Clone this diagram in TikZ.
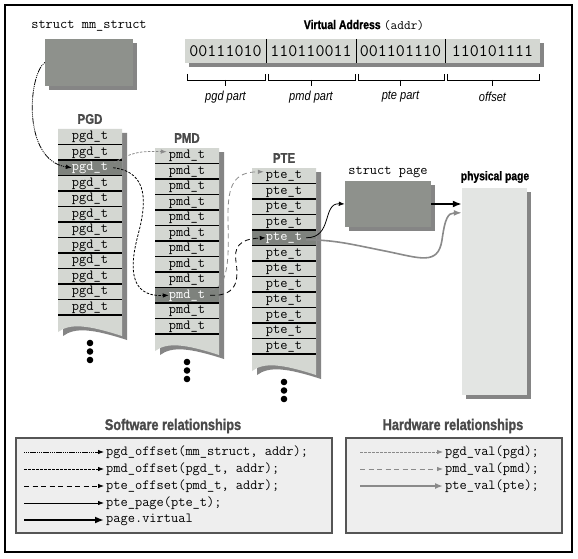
\documentclass[tikz,border=0pt]{standalone}
\usepackage{fontspec}
\newfontfamily\condfont[FakeStretch=0.85]{Liberation Sans}
\newfontfamily\titlefont[FakeStretch=0.82,BoldFeatures={FakeBold=1.2}]{Liberation Sans}
\usepackage{tikz}
\usepackage{xcolor}
\usetikzlibrary{arrows.meta,shadows}
\definecolor{cellgray}{HTML}{D4D7D2}
\definecolor{hlgray}{HTML}{7E827D}
\definecolor{boxgray}{HTML}{8E918C}
\definecolor{physgray}{HTML}{E3E5E3}
\definecolor{shadowgray}{HTML}{858585}
\definecolor{titlegray}{HTML}{4A4A4A}
\definecolor{legendfill}{HTML}{EEEEEE}
\definecolor{legendframe}{HTML}{555555}
\definecolor{hwgray}{HTML}{8A8A8A}
\tikzset{
  mono/.style={font=\ttfamily\fontsize{14}{16}\selectfont},
  rowtxt/.style={mono,inner sep=0pt,text height=8.5pt,text depth=3pt},
  bits/.style={font=\ttfamily\fontsize{17.5}{19}\selectfont,inner sep=0pt},
  partlabel/.style={font=\condfont\itshape\fontsize{13}{15}\selectfont},
  tabtitle/.style={font=\titlefont\bfseries\fontsize{14}{16}\selectfont,text=titlegray},
  reltitle/.style={font=\titlefont\bfseries\fontsize{15.5}{17}\selectfont,text=titlegray},
  phystitle/.style={font=\titlefont\bfseries\fontsize{12.6}{14}\selectfont},
  darkbox/.style={fill=boxgray,drop shadow={shadow xshift=4pt,shadow yshift=-4pt,fill=shadowgray,opacity=1}},
  physbox/.style={fill=physgray,drop shadow={shadow xshift=4pt,shadow yshift=-4pt,fill=shadowgray,opacity=1}},
  legendbox/.style={fill=legendfill,draw=legendframe,line width=1.5pt},
  legtxt/.style={mono,anchor=west,inner sep=2pt},
  rowline/.style={line width=1.1pt},
  swarrow/.style={line width=0.8pt,-{Latex[length=6pt,width=4.5pt]}},
  mmarrow/.style={swarrow,dash pattern=on 1pt off 1pt on 1pt off 1pt on 1pt off 1pt on 6pt off 1pt},
  pgdarrow/.style={swarrow,dash pattern=on 2.5pt off 1.5pt},
  pmdarrow/.style={swarrow,dash pattern=on 5pt off 3.5pt},
  pagearrow/.style={swarrow},
  virtarrow/.style={line width=2pt,-{Latex[length=9pt,width=7pt]}},
  pgdval/.style={swarrow,draw=hwgray,dash pattern=on 2.5pt off 1.5pt},
  pmdval/.style={swarrow,draw=hwgray,dash pattern=on 5pt off 3.5pt},
  pteval/.style={line width=1.6pt,draw=hwgray,-{Latex[length=8pt,width=6pt]}}
}
\begin{document}
\begin{tikzpicture}[x=1pt,y=-1pt]
\useasboundingbox (0,0) rectangle (578,559);
\fill[white] (0,0) rectangle (578,559);
\draw[line width=2pt] (5,5) rectangle (572,552);

\node[mono] (mmlabel) at (89,26) {struct mm\_struct};
\node[darkbox,minimum width=88pt,minimum height=47pt] (mm) at (89,62.5) {};

\node (vaddr) at (364,25) {{\titlefont\bfseries\fontsize{12.7}{14}\selectfont Virtual Address} {\ttfamily\fontsize{13}{15}\selectfont(addr)}};
\fill[shadowgray] (189,43) rectangle (544,67);
\fill[cellgray] (185,39) rectangle (540,63);
\foreach \xl/\xr/\bitstr/\plabel [count=\i] in {185/266/00111010/pgd part, 266/356/110110011/pmd part, 356/445/001101110/pte part, 445/540/110101111/offset}{
  \node[bits] (bits\i) at ({(\xl+\xr)/2},51) {\bitstr};
  \draw (\xl+2,74) |- (\xr-1,80) -- (\xr-1,74);
  \draw ({(\xl+\xr)/2},80) -- ++(0,6);
  \node[partlabel] (part\i) at ({(\xl+\xr)/2},97) {\plabel};
}
\foreach \xd in {266,356,445}
  \draw (\xd,39) -- (\xd,63);

\foreach \tname/\Tname/\xa/\ya/\hrow in {pgd/PGD/58/129/3, pmd/PMD/155/148/10, pte/PTE/252/168/5}{
  \fill[shadowgray,shift={(5,4)}] (\xa,\ya) -- (\xa+64,\ya) -- (\xa+64,\ya+207) .. controls (\xa+30,\ya+196) and (\xa+12,\ya+194) .. (\xa,\ya+203) -- cycle;
  \fill[cellgray] (\xa,\ya) -- (\xa+64,\ya) -- (\xa+64,\ya+207) .. controls (\xa+30,\ya+196) and (\xa+12,\ya+194) .. (\xa,\ya+203) -- cycle;
  \fill[hlgray] (\xa,\ya+\hrow*15.5-15.5) rectangle (\xa+64,\ya+\hrow*15.5);
  \foreach \row in {1,...,12}{
    \ifnum\row=\hrow
      \node[rowtxt,text=white] (\tname\row) at (\xa+32,\ya+\row*15.5-7.75) {\tname\_t};
    \else
      \node[rowtxt] (\tname\row) at (\xa+32,\ya+\row*15.5-7.75) {\tname\_t};
    \fi
    \draw[rowline] (\xa,\ya+\row*15.5) -- (\xa+64,\ya+\row*15.5);
  }
  \node[tabtitle] (\tname title) at (\xa+32,\ya-10) {\Tname};
  \foreach \d in {0,1,2}
    \fill (\xa+32,\ya+214+\d*8.5) circle (3.3);
}

\node[mono] (pagelabel) at (388,172) {struct page};
\node[darkbox,minimum width=86pt,minimum height=46pt] (page) at (388,204) {};
\node[phystitle] (physlabel) at (495,177) {physical page};
\node[physbox,minimum width=65pt,minimum height=207pt] (phys) at (494.5,291.5) {};

\draw[mmarrow] (mm.west) .. controls (28,75) and (22,160) .. (pgd3.west);
\draw[pgdarrow] ([xshift=5pt]pgd3.east) .. controls (150,172) and (146,205) .. (138,235) .. controls (130,265) and (128,297) .. (pmd10.west);
\draw[pgdval] ([xshift=6pt,yshift=5pt]pgd3.east) .. controls (132,152) and (140,151) .. ([xshift=-2pt,yshift=4pt]pmd1.west);
\draw[pmdarrow] ([xshift=5pt]pmd10.east) .. controls (240,297) and (238,275) .. (236,262) .. controls (234,248) and (238,239) .. (pte5.west);
\draw[pmdval] ([xshift=5pt,yshift=5pt]pmd10.east) .. controls (232,288) and (228,245) .. (228,215) .. controls (228,185) and (234,172) .. ([xshift=-2pt,yshift=4pt]pte1.west);
\draw[pagearrow] ([xshift=4pt]pte5.east) .. controls (333,238) and (322,203) .. (page.west);
\draw[virtarrow] (page.east) -- (page.east -| phys.west);
\draw[pteval] ([xshift=4pt,yshift=-2pt]pte5.east) .. controls (335,240) and (350,244) .. (385,251) .. controls (420,258) and (438,266) .. (442,240) .. controls (445,218) and (448,213) .. ([yshift=-25pt]phys.north west);

\node[reltitle] (swtitle) at (173,426) {Software relationships};
\node[reltitle] (hwtitle) at (453,426) {Hardware relationships};
\node[legendbox,minimum width=316pt,minimum height=95pt] (swbox) at (174,485.5) {};
\node[legendbox,minimum width=216pt,minimum height=95pt] (hwbox) at (454,485.5) {};
\foreach \y/\sty/\txt [count=\i] in {452/mmarrow/{pgd\_offset(mm\_struct, addr);}, 469/pgdarrow/{pmd\_offset(pgd\_t, addr);}, 486/pmdarrow/{pte\_offset(pmd\_t, addr);}, 503/pagearrow/{pte\_page(pte\_t);}, 520/virtarrow/{page.virtual}}{
  \coordinate (sw\i) at (24,\y);
  \node[legtxt] (swtxt\i) at (104,\y) {\txt};
  \draw[\sty] (sw\i) -- (swtxt\i.west);
}
\foreach \y/\sty/\txt [count=\i] in {452/pgdval/{pgd\_val(pgd);}, 469/pmdval/{pmd\_val(pmd);}, 486/pteval/{pte\_val(pte);}}{
  \coordinate (hw\i) at (360,\y);
  \node[legtxt] (hwtxt\i) at (443,\y) {\txt};
  \draw[\sty] (hw\i) -- (hwtxt\i.west);
}
\end{tikzpicture}
\end{document}
